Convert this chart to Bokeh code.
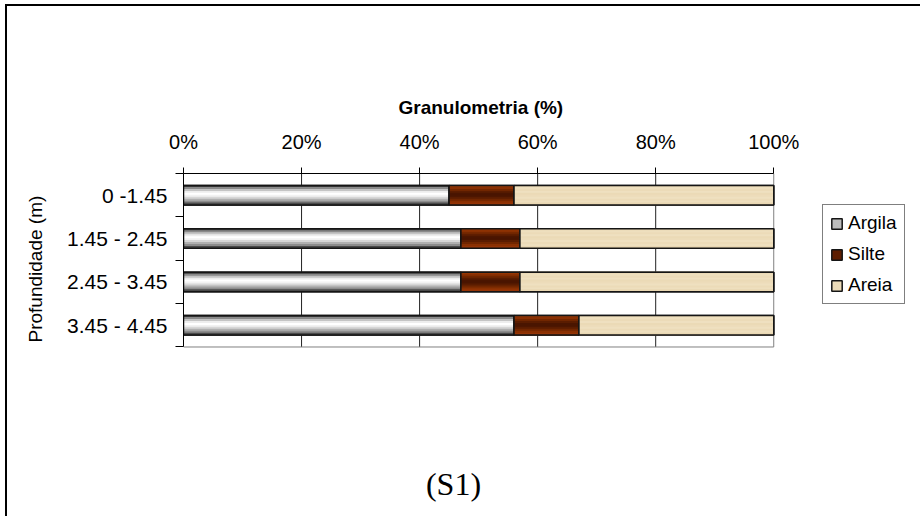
from bokeh.plotting import figure
from bokeh.models import (Range1d, FixedTicker, PrintfTickFormatter, Legend, LegendItem,
                          Title, Label, ColumnDataSource)
from bokeh.embed import file_html
from bokeh.resources import INLINE

# Particle-size distribution (%) per depth interval
profundidade = ["0 -1.45", "1.45 - 2.45", "2.45 - 3.45", "3.45 - 4.45"]
argila = [45, 47, 47, 56]
silte = [11, 10, 10, 11]
areia = [44, 43, 43, 33]
x_ticks = [0, 20, 40, 60, 80, 100]
grid_x = [20, 40, 60, 80]

FONT = "Liberation Sans"
BAR_H = 0.45
X_MAX = 100        # end of the percentage scale
X_VIEW = 123.0     # visible x range also leaves room for the legend
n = len(profundidade)
Y_VIEW = 7.908     # visible depth range also leaves room for the caption

# horizontal shading bands (top to bottom) that give each fraction its look
argila_bands = ["#3c3c3c", "#8a8a8a", "#c4c4c4", "#ededed", "#ffffff", "#f2f2f2",
                "#d6d6d6", "#b0b0b0", "#8c8c8c", "#4a4a4a"]
silte_bands = ["#9a3806", "#8a3002", "#712600", "#5a1c00", "#4a1500", "#4a1500",
               "#5a1c00", "#712600", "#8a3002", "#943406"]
areia_bands = ["#ead8b4", "#eedfbe", "#ecdbb8", "#efe0c0", "#ebdab6", "#eddcba",
               "#efe0c0", "#ecdbb8", "#eedfbe", "#e9d7b2"]

centers = [i + 0.5 for i in range(n)]
a_end = [a for a in argila]
s_end = [a + s for a, s in zip(argila, silte)]
r_end = [a + s + r for a, s, r in zip(argila, silte, areia)]

p = figure(width=920, height=516, output_backend="svg", toolbar_location=None,
           x_range=Range1d(0, X_VIEW), y_range=Range1d(Y_VIEW, 0),
           x_axis_location="above", min_border_left=183, min_border_right=11,
           min_border_top=173, min_border_bottom=0,
           border_fill_color=None, background_fill_color="white",
           styles={
               "background-image": "linear-gradient(#000,#000), linear-gradient(#000,#000)",
               "background-position": "5px 4px, 5px 4px",
               "background-size": "2px 100%, 100% 2px",
               "background-repeat": "no-repeat",
           })
p.outline_line_color = None
p.xgrid.grid_line_color = None
p.ygrid.grid_line_color = None

# vertical gridlines across the depth rows
p.segment(x0=grid_x, y0=[0] * len(grid_x), x1=grid_x, y1=[n] * len(grid_x),
          line_color="#222222", line_width=1, level="underlay")

# plot-area border (0-100 %, all depth rows)
p.quad(left=[0], right=[X_MAX], top=[0], bottom=[n], fill_color=None,
       line_color="#808080", line_width=1, level="underlay")


def draw_segment(left, right, bands, swatch):
    src = ColumnDataSource(dict(y=centers, left=left, right=right))
    base = p.hbar(y="y", left="left", right="right", height=BAR_H, source=src,
                  fill_color=swatch, line_color="#151515", line_width=1.5)
    nb = len(bands)
    bh = BAR_H / nb
    for k, col in enumerate(bands):
        ys = [c - BAR_H / 2 + (k + 0.5) * bh for c in centers]
        bsrc = ColumnDataSource(dict(y=ys, left=left, right=right))
        p.hbar(y="y", left="left", right="right", height=bh * 1.4, source=bsrc,
               fill_color=col, line_color=None)
    p.hbar(y="y", left="left", right="right", height=BAR_H, source=src,
           fill_color=None, line_color="#151515", line_width=1.5)
    return base


r_arg = draw_segment([0] * n, a_end, argila_bands, "#bdbdbd")
r_sil = draw_segment(a_end, s_end, silte_bands, "#5e1d00")
r_are = draw_segment(s_end, r_end, areia_bands, "#ecdbb8")

# x axis (top)
xa = p.xaxis[0]
xa.bounds = (0, X_MAX)
xa.ticker = FixedTicker(ticks=x_ticks)
xa.formatter = PrintfTickFormatter(format="%d%%")
xa.major_label_text_font = FONT
xa.major_label_text_font_size = "20px"
xa.major_label_text_color = "#000000"
xa.major_tick_out = 6
xa.major_tick_in = 0
xa.minor_tick_out = 0
xa.minor_tick_in = 0
xa.major_label_standoff = 15
xa.axis_line_color = "#000000"
xa.major_tick_line_color = "#000000"

# y axis: labels at category centres, ticks at category boundaries
ya = p.yaxis[0]
ya.bounds = (0, n)
ya.ticker = FixedTicker(ticks=centers, minor_ticks=list(range(n + 1)))
ya.major_label_overrides = {c: lab for c, lab in zip(centers, profundidade)}
ya.major_label_text_font = FONT
ya.major_label_text_font_size = "21px"
ya.major_label_text_color = "#000000"
ya.major_tick_out = 0
ya.major_tick_in = 0
ya.minor_tick_out = 8
ya.minor_tick_in = 0
ya.minor_tick_line_color = "#000000"
ya.major_label_standoff = 8
ya.axis_line_color = "#000000"

# chart title above the percentage axis
p.title.text = "Granulometria (%)"
p.title.align = "left"
p.title.offset = 215
p.title.standoff = 20
p.title.text_font = FONT
p.title.text_font_style = "bold"
p.title.text_font_size = "19px"
p.title.text_color = "#000000"

# depth axis title
ytitle = Title(text="Profundidade (m)", align="left", offset=174, standoff=38,
               vertical_align="bottom", text_font=FONT, text_font_style="normal",
               text_font_size="19px", text_color="#000000")
p.add_layout(ytitle, "left")

legend = Legend(items=[LegendItem(label="Argila", renderers=[r_arg]),
                       LegendItem(label="Silte", renderers=[r_sil]),
                       LegendItem(label="Areia", renderers=[r_are])],
                location=(639, 212), orientation="vertical",
                label_text_font=FONT, label_text_font_size="19px",
                label_text_color="#000000", glyph_width=13, glyph_height=13,
                label_standoff=5, padding=7, spacing=9, margin=0,
                border_line_color="#000000", border_line_width=1,
                background_fill_color="white", background_fill_alpha=1)
p.add_layout(legend)

# figure caption
cap = Label(x=270, y=33, x_units="screen", y_units="screen", text="(S1)",
            text_font="Liberation Serif", text_font_size="32px",
            text_align="center", text_baseline="alphabetic", text_color="#000000")
p.add_layout(cap)

open("out.html", "w").write(file_html(p, INLINE))
